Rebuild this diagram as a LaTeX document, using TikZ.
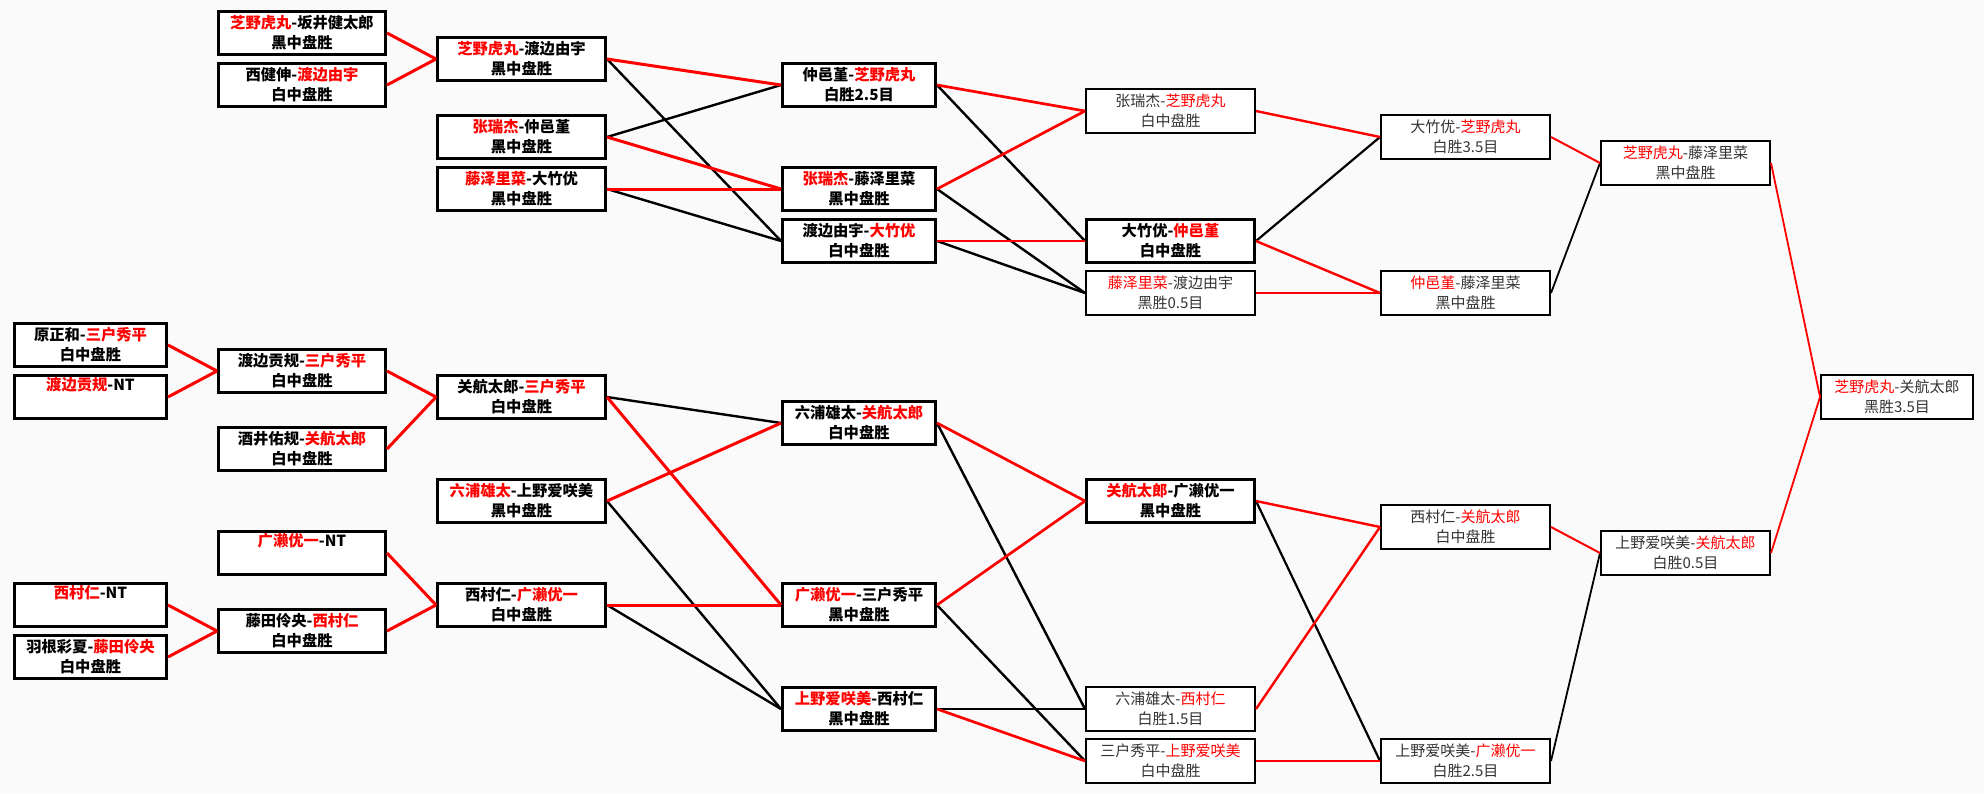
\documentclass[tikz,border=0pt]{standalone}
\usepackage{fontspec}
\setmainfont{Noto Sans CJK SC}
\newcommand{\winner}[1]{\textcolor{red}{#1}}

\begin{document}
\begin{tikzpicture}[x=1pt,y=-1pt,
    heavy/.style={draw,line width=3pt,fill=white,minimum height=43pt,
      inner sep=0pt,align=center,font=\fontsize{15.3pt}{20pt}\selectfont\bfseries},
    light/.style={draw,line width=1.8pt,fill=white,minimum height=44.2pt,
      inner sep=0pt,align=center,text=black!80,font=\fontsize{15pt}{20pt}\selectfont},
    won/.style={red,line width=3pt},
    lost/.style={black,line width=2.4pt}]
        \fill[black!2] (0,0) rectangle (1984,793) ;
        \useasboundingbox (0,0) rectangle (1984,793) ;
        % first round
        \node[heavy,minimum width=152pt] (r0a) at (90.5,345) {原正和-\winner{三户秀平}\\白中盘胜} ;
        \node[heavy,minimum width=152pt] (r0b) at (90.5,397) {\winner{渡边贡规}-NT\\\strut} ;
        \node[heavy,minimum width=152pt] (r0c) at (90.5,605) {\winner{西村仁}-NT\\\strut} ;
        \node[heavy,minimum width=152pt] (r0d) at (90.5,657) {羽根彩夏-\winner{藤田伶央}\\白中盘胜} ;
        % second round
        \node[heavy,minimum width=167pt] (r1a) at (302,33) {\winner{芝野虎丸}-坂井健太郎\\黑中盘胜} ;
        \node[heavy,minimum width=167pt] (r1b) at (302,85) {西健伸-\winner{渡边由宇}\\白中盘胜} ;
        \node[heavy,minimum width=167pt] (r1c) at (302,371) {渡边贡规-\winner{三户秀平}\\白中盘胜} ;
        \node[heavy,minimum width=167pt] (r1d) at (302,449) {酒井佑规-\winner{关航太郎}\\白中盘胜} ;
        \node[heavy,minimum width=167pt] (r1e) at (302,553) {\winner{广濑优一}-NT\\\strut} ;
        \node[heavy,minimum width=167pt] (r1f) at (302,631) {藤田伶央-\winner{西村仁}\\白中盘胜} ;
        % third round
        \node[heavy,minimum width=168pt] (r2a) at (521.5,59) {\winner{芝野虎丸}-渡边由宇\\黑中盘胜} ;
        \node[heavy,minimum width=168pt] (r2b) at (521.5,137) {\winner{张瑞杰}-仲邑堇\\黑中盘胜} ;
        \node[heavy,minimum width=168pt] (r2c) at (521.5,189) {\winner{藤泽里菜}-大竹优\\黑中盘胜} ;
        \node[heavy,minimum width=168pt] (r2d) at (521.5,397) {关航太郎-\winner{三户秀平}\\白中盘胜} ;
        \node[heavy,minimum width=168pt] (r2e) at (521.5,501) {\winner{六浦雄太}-上野爱咲美\\黑中盘胜} ;
        \node[heavy,minimum width=168pt] (r2f) at (521.5,605) {西村仁-\winner{广濑优一}\\白中盘胜} ;
        % fourth round
        \node[heavy,minimum width=153pt] (r3a) at (859,85) {仲邑堇-\winner{芝野虎丸}\\白胜2.5目} ;
        \node[heavy,minimum width=153pt] (r3b) at (859,189) {\winner{张瑞杰}-藤泽里菜\\黑中盘胜} ;
        \node[heavy,minimum width=153pt] (r3c) at (859,241) {渡边由宇-\winner{大竹优}\\白中盘胜} ;
        \node[heavy,minimum width=153pt] (r3d) at (859,423) {六浦雄太-\winner{关航太郎}\\白中盘胜} ;
        \node[heavy,minimum width=153pt] (r3e) at (859,605) {\winner{广濑优一}-三户秀平\\黑中盘胜} ;
        \node[heavy,minimum width=153pt] (r3f) at (859,709) {\winner{上野爱咲美}-西村仁\\黑中盘胜} ;
        % fifth round
        \node[light,minimum width=169.2pt] (r4a) at (1170.5,111) {张瑞杰-\winner{芝野虎丸}\\白中盘胜} ;
        \node[heavy,minimum width=168pt] (r4b) at (1170.5,241) {大竹优-\winner{仲邑堇}\\白中盘胜} ;
        \node[light,minimum width=169.2pt] (r4c) at (1170.5,293) {\winner{藤泽里菜}-渡边由宇\\黑胜0.5目} ;
        \node[heavy,minimum width=168pt] (r4d) at (1170.5,501) {\winner{关航太郎}-广濑优一\\黑中盘胜} ;
        \node[light,minimum width=169.2pt] (r4e) at (1170.5,709) {六浦雄太-\winner{西村仁}\\白胜1.5目} ;
        \node[light,minimum width=169.2pt] (r4f) at (1170.5,761) {三户秀平-\winner{上野爱咲美}\\白中盘胜} ;
        % sixth round
        \node[light,minimum width=169.2pt] (r5a) at (1465.5,137) {大竹优-\winner{芝野虎丸}\\白胜3.5目} ;
        \node[light,minimum width=169.2pt] (r5b) at (1465.5,293) {\winner{仲邑堇}-藤泽里菜\\黑中盘胜} ;
        \node[light,minimum width=169.2pt] (r5c) at (1465.5,527) {西村仁-\winner{关航太郎}\\白中盘胜} ;
        \node[light,minimum width=169.2pt] (r5d) at (1465.5,761) {上野爱咲美-\winner{广濑优一}\\白胜2.5目} ;
        % semi final and final
        \node[light,minimum width=169.2pt] (r6a) at (1685.5,163) {\winner{芝野虎丸}-藤泽里菜\\黑中盘胜} ;
        \node[light,minimum width=169.2pt] (r6b) at (1685.5,553) {上野爱咲美-\winner{关航太郎}\\白胜0.5目} ;
        \node[light,minimum width=152.2pt] (fin) at (1897,397) {\winner{芝野虎丸}-关航太郎\\黑胜3.5目} ;
        % connectors
        \draw[won] (r0a.east) -- (r1c.west) ;
        \draw[won] (r0b.east) -- (r1c.west) ;
        \draw[won] (r0c.east) -- (r1f.west) ;
        \draw[won] (r0d.east) -- (r1f.west) ;
        \draw[won] (r1a.east) -- (r2a.west) ;
        \draw[won] (r1b.east) -- (r2a.west) ;
        \draw[won] (r1c.east) -- (r2d.west) ;
        \draw[won] (r1d.east) -- (r2d.west) ;
        \draw[won] (r1e.east) -- (r2f.west) ;
        \draw[won] (r1f.east) -- (r2f.west) ;
        \draw[lost] (r2a.east) -- (r3c.west) ;
        \draw[lost] (r2b.east) -- (r3a.west) ;
        \draw[lost] (r2c.east) -- (r3c.west) ;
        \draw[lost] (r2d.east) -- (r3d.west) ;
        \draw[lost] (r2e.east) -- (r3f.west) ;
        \draw[lost] (r2f.east) -- (r3f.west) ;
        \draw[won] (r2a.east) -- (r3a.west) ;
        \draw[won] (r2b.east) -- (r3b.west) ;
        \draw[won] (r2c.east) -- (r3b.west) ;
        \draw[won] (r2d.east) -- (r3e.west) ;
        \draw[won] (r2e.east) -- (r3d.west) ;
        \draw[won] (r2f.east) -- (r3e.west) ;
        \draw[lost] (r3a.east) -- (r4b.west) ;
        \draw[lost] (r3b.east) -- (r4c.west) ;
        \draw[lost] (r3c.east) -- (r4c.west) ;
        \draw[lost] (r3d.east) -- (r4e.west) ;
        \draw[lost] (r3e.east) -- (r4f.west) ;
        \draw[lost] (r3f.east) -- (r4e.west) ;
        \draw[won,line width=2.7pt] (r3a.east) -- (r4a.west) ;
        \draw[won,line width=2.7pt] (r3b.east) -- (r4a.west) ;
        \draw[won,line width=2.7pt] (r3c.east) -- (r4b.west) ;
        \draw[won,line width=2.7pt] (r3d.east) -- (r4d.west) ;
        \draw[won,line width=2.7pt] (r3e.east) -- (r4d.west) ;
        \draw[won,line width=2.7pt] (r3f.east) -- (r4f.west) ;
        \draw[lost,line width=2.2pt] (r4b.east) -- (r5a.west) ;
        \draw[lost,line width=2.2pt] (r4d.east) -- (r5d.west) ;
        \draw[won,line width=2.4pt] (r4a.east) -- (r5a.west) ;
        \draw[won,line width=2.4pt] (r4b.east) -- (r5b.west) ;
        \draw[won,line width=2.4pt] (r4c.east) -- (r5b.west) ;
        \draw[won,line width=2.4pt] (r4d.east) -- (r5c.west) ;
        \draw[won,line width=2.4pt] (r4e.east) -- (r5c.west) ;
        \draw[won,line width=2.4pt] (r4f.east) -- (r5d.west) ;
        \draw[lost,line width=1.8pt] (r5b.east) -- (r6a.west) ;
        \draw[lost,line width=1.8pt] (r5d.east) -- (r6b.west) ;
        \draw[won,line width=2pt] (r5a.east) -- (r6a.west) ;
        \draw[won,line width=2pt] (r5c.east) -- (r6b.west) ;
        \draw[won,line width=1.8pt] (r6a.east) -- (fin.west) ;
        \draw[won,line width=1.8pt] (r6b.east) -- (fin.west) ;
      \end{tikzpicture}
\end{document}
